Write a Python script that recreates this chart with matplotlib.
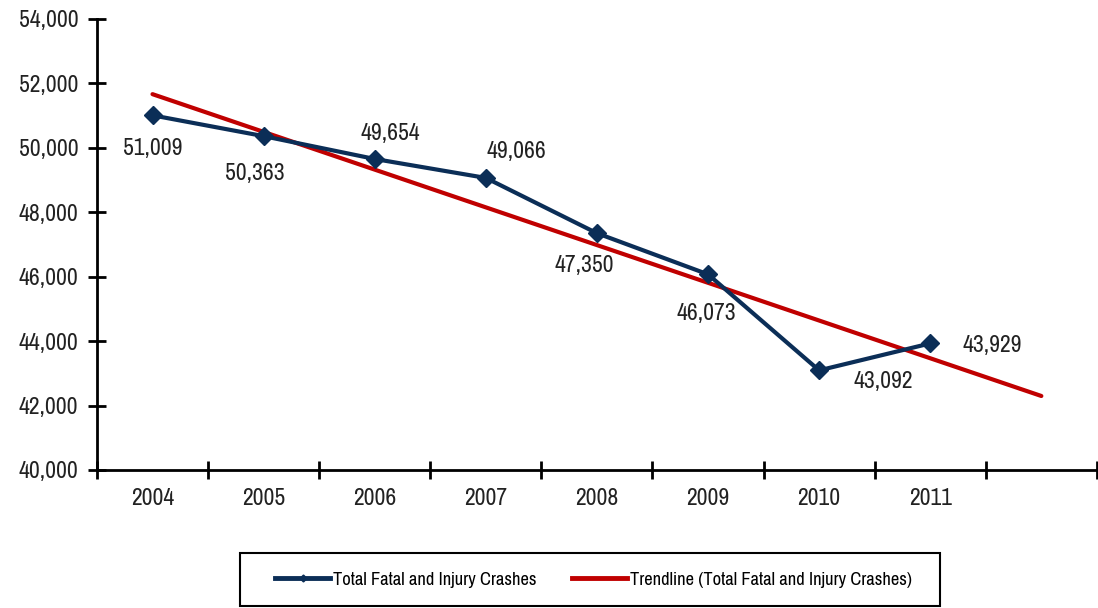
import numpy as np
import matplotlib.pyplot as plt
from matplotlib import font_manager
from matplotlib.lines import Line2D
from matplotlib.patches import Rectangle

years = ["2004", "2005", "2006", "2007", "2008", "2009", "2010", "2011"]
crashes = [51009, 50363, 49654, 49066, 47350, 46073, 43092, 43929]
y_ticks = [40000, 42000, 44000, 46000, 48000, 50000, 52000, 54000]

# pick a narrow face if one is installed
fl = font_manager.fontManager.ttflist
narrow = [f for f in fl if "Narrow" in f.name and "Bold" not in f.fname and "Italic" not in f.fname]
cond = [f for f in fl if "DejaVuSansCondensed.ttf" in f.fname]
if narrow:
    plt.rcParams["font.family"] = [narrow[0].name, "DejaVu Sans"]
elif cond:
    plt.rcParams["font.family"] = ["DejaVu Sans"]
    plt.rcParams["font.stretch"] = "condensed"
else:
    plt.rcParams["font.family"] = ["Liberation Sans", "DejaVu Sans"]

navy = "#0B2E57"
red = "#C00000"
txt = "#222222"
fs = 17

fig = plt.figure(figsize=(10.98, 6.08), dpi=100)
ax = fig.add_axes([0.0883, 0.227, 0.9107, 0.7418])

x = np.arange(len(years))
ax.plot(x, crashes, color=navy, lw=3, marker="D", ms=9.5, zorder=3)

# linear trendline, extended one period forward
slope, icpt = np.polyfit(x, crashes, 1)
xt = np.array([0, len(years)])
ax.plot(xt, slope * xt + icpt, color=red, lw=3, solid_capstyle="round", zorder=2)

# label offsets in points (dx, dy)
offsets = [(0, -24), (-6, -27), (11, 18), (22, 19), (-9, -23), (-1.5, -28), (46, -8), (45, -1.5)]
for xi, v, (dx, dy) in zip(x, crashes, offsets):
    ax.annotate(f"{v:,}", (xi, v), xytext=(dx, dy), textcoords="offset points",
                ha="center", va="center", fontsize=fs, color=txt)

ax.set_xlim(-0.5, len(years) + 0.5)
ax.set_ylim(40000, 54000)
ax.set_yticks(y_ticks)
ax.set_yticklabels([f"{t:,}" for t in y_ticks], fontsize=fs, color=txt)
ax.set_xticks(np.arange(-0.5, len(years) + 1, 1))
ax.set_xticklabels([])
ax.set_xticks(x, minor=True)
ax.set_xticklabels(years, minor=True, fontsize=fs, color=txt)
ax.tick_params(axis="x", which="minor", length=0, pad=13)
ax.tick_params(axis="x", which="major", direction="inout", length=13, width=2)
ax.tick_params(axis="y", direction="inout", length=13, width=2, pad=7)

for s in ["top", "right"]:
    ax.spines[s].set_visible(False)
for s in ["left", "bottom"]:
    ax.spines[s].set_linewidth(2)

# legend box drawn separately so its padding matches
W, H = 1098, 608
fig.patches.append(Rectangle((240 / W, 1 - 606 / H), 700 / W, 53 / H, transform=fig.transFigure,
                             fill=False, edgecolor="black", lw=1.5))
handles = [
    Line2D([], [], color=navy, lw=3.5, marker="D", ms=3.5),
    Line2D([], [], color=red, lw=3.5),
]
fig.legend(handles, ["Total Fatal and Injury Crashes", "Trendline (Total Fatal and Injury Crashes)"],
           loc="center", bbox_to_anchor=(0.5405, 1 - 579.5 / H), ncol=2, fontsize=13.3,
           frameon=False, handlelength=3.0, handletextpad=0.15, columnspacing=1.9,
           borderpad=0, borderaxespad=0)

fig.savefig("out.png", dpi=100)
